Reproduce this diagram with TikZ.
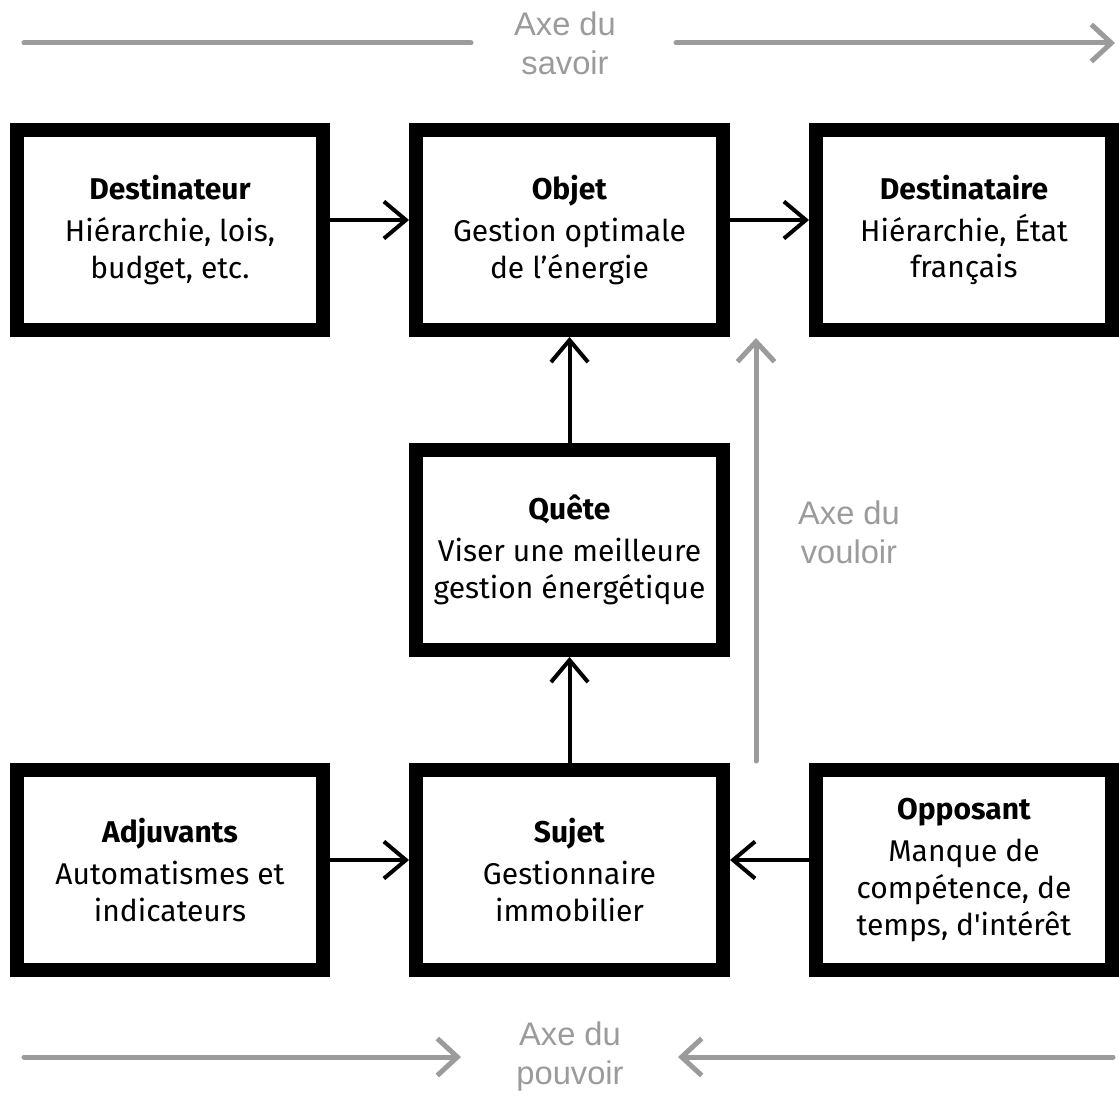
\documentclass[tikz,border=0pt]{standalone}
\usepackage{fontspec}
\setmainfont{Fira Sans}[Ligatures=TeXOff]
\newfontfamily\axefont{Liberation Sans}
\usetikzlibrary{arrows.meta}
\definecolor{axegray}{HTML}{9B9B9B}
\begin{document}
\begin{tikzpicture}[x=0.75pt,y=-0.75pt,
  box/.style={draw, line width=10.5pt, minimum width=230.25pt, minimum height=150pt,
    inner sep=0pt, align=center, font=\fontsize{22.5}{27.5}\selectfont},
  conn/.style={line width=3pt, -{Straight Barb[length=16.5pt,width=27.75pt]}},
  axe/.style={draw=axegray, line width=3.75pt, line cap=round},
  axetip/.style={-{Straight Barb[length=15pt,width=27.75pt]}},
  axelabel/.style={text=axegray, font=\axefont\fontsize{24.5}{29.25}\selectfont, align=center, inner sep=0pt}]
\useasboundingbox (0,0) rectangle (1119,1095);
\newcommand{\ttl}[1]{\textbf{#1}\\[4pt]}
% boxes
\node[box, minimum width=229.5pt] (destr) at (170,230) {\ttl{Destinateur}Hiérarchie, lois,\\budget, etc.};
\node[box] (obj) at (569.5,230) {\ttl{Objet}Gestion optimale\\de l’énergie};
\node[box, minimum width=222pt] (desta) at (964,230) {\ttl{Destinataire}Hiérarchie, État\\français};
\node[box] (quete) at (569.5,550) {\ttl{Quête}Viser une meilleure\\gestion énergétique};
\node[box, minimum width=229.5pt] (adj) at (170,870) {\ttl{Adjuvants}Automatismes et\\indicateurs};
\node[box] (sujet) at (569.5,870) {\ttl{Sujet}Gestionnaire\\immobilier};
\node[box, minimum width=222pt] (opp) at (964,870) {\ttl{Opposant}Manque de\\compétence, de\\temps, d'intérêt};
% connector levels
\coordinate (yt) at (0,220);
\coordinate (yb) at (0,860);
\draw[conn] (destr.east |- yt) -- (obj.west |- yt);
\draw[conn] (obj.east |- yt) -- (desta.west |- yt);
\draw[conn] (sujet.north) -- (quete.south);
\draw[conn] (quete.north) -- (obj.south);
\draw[conn] (adj.east |- yb) -- (sujet.west |- yb);
\draw[conn] (opp.west |- yb) -- (sujet.east |- yb);
% axes
\node[axelabel] (savoir) at (565,43) {Axe du\\savoir};
\coordinate (s1) at (24,43); \coordinate (s2) at (471,43);
\coordinate (s3) at (676,43); \coordinate (s4) at (1115,43);
\draw[axe] (s1) -- (s2);
\draw[axe,axetip] (s3) -- (s4);
\node[axelabel] (vouloir) at (849,532) {Axe du\\vouloir};
\coordinate (v1) at (756,761); \coordinate (v2) at (756,338);
\draw[axe,axetip] (v1) -- (v2);
\node[axelabel] (pouvoir) at (570,1057) {Axe du\\pouvoir};
\coordinate (p1) at (24,1057); \coordinate (p2) at (461,1057);
\coordinate (p3) at (1113,1057); \coordinate (p4) at (678,1057);
\draw[axe,axetip] (p1) -- (p2);
\draw[axe,axetip] (p3) -- (p4);
\end{tikzpicture}
\end{document}
